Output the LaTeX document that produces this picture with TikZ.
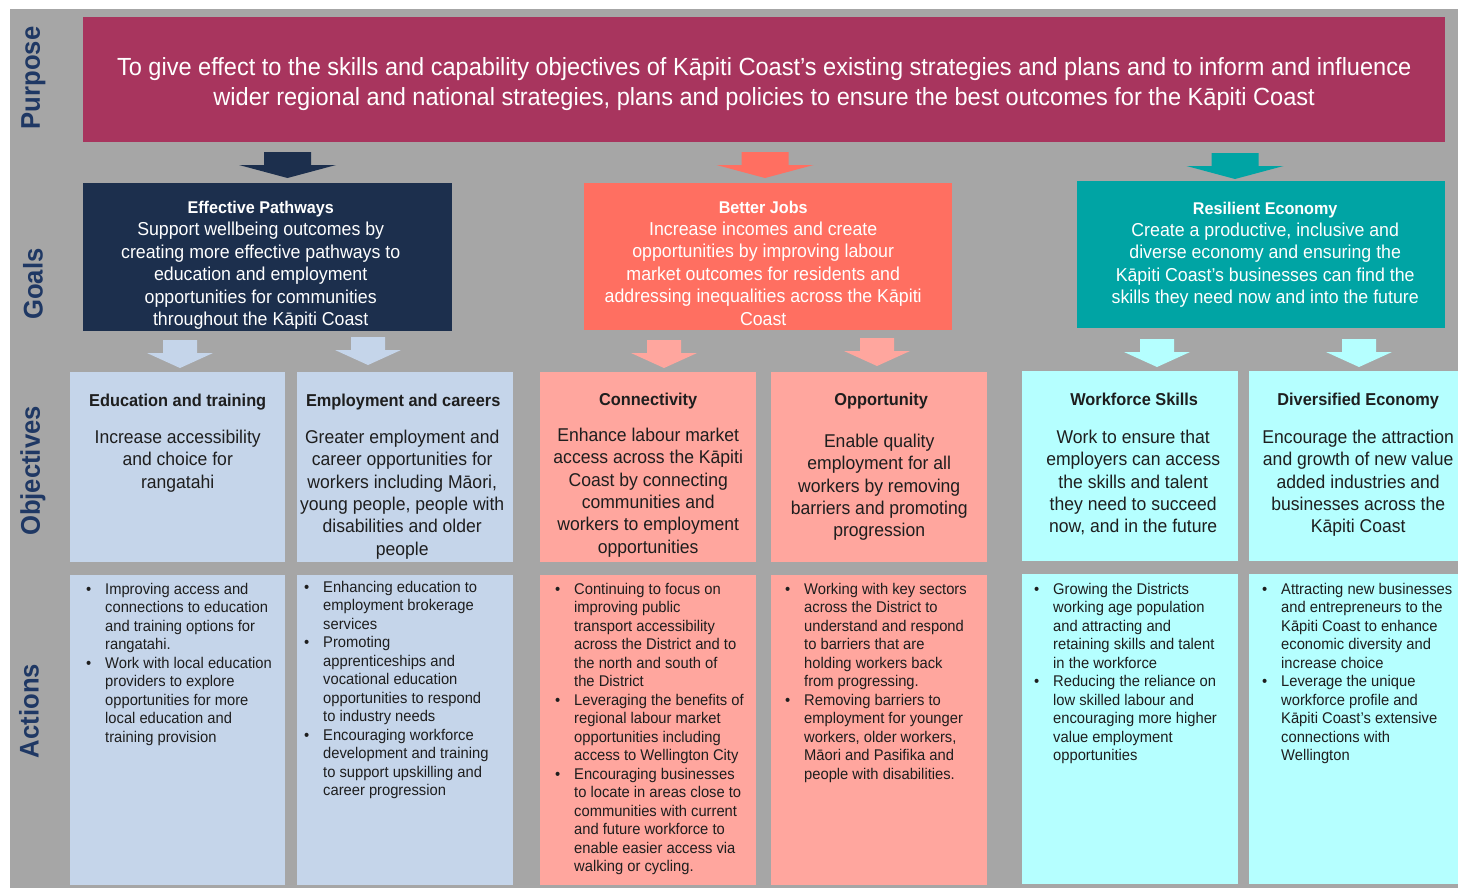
\documentclass[tikz,border=0pt]{standalone}
\usepackage{fontspec}
\setmainfont{Liberation Sans}[FakeStretch=0.95]
\usepackage{xcolor}
\usetikzlibrary{positioning}

\definecolor{bggray}{HTML}{A6A6A6}
\definecolor{purposered}{HTML}{A8355E}
\definecolor{pathnavy}{HTML}{1C2F4D}
\definecolor{jobcoral}{HTML}{FF6F61}
\definecolor{econteal}{HTML}{00A4A4}
\definecolor{pathlight}{HTML}{C5D5EA}
\definecolor{joblight}{HTML}{FFA69E}
\definecolor{econlight}{HTML}{B5FFFF}
\definecolor{sidenavy}{HTML}{1F3864}
\definecolor{inkgray}{HTML}{1E1E1E}

\newcommand{\sidefont}{\fontsize{27}{30}\selectfont\bfseries}
\newcommand{\purpfont}{\fontsize{24.8}{30}\selectfont}
\newcommand{\goalfont}{\fontsize{18.7}{22.4}\selectfont}
\newcommand{\goalhead}[1]{{\fontsize{17}{22.4}\selectfont\bfseries #1}}
\newcommand{\objfont}{\fontsize{18.5}{22.3}\selectfont}
\newcommand{\objheadfont}{\fontsize{17.2}{22.3}\selectfont\bfseries}
\newcommand{\actfont}{\fontsize{15.5}{18.5}\selectfont}
\newcommand{\bullets}[1]{\begin{tabular}{@{}p{19pt}@{}l@{}}#1\end{tabular}}

\tikzset{
    pics/bigdown/.style={code={
        \fill[#1] (-23.5,0) -- (23.5,0) -- (23.5,13) -- (48.5,13) -- (0,26) -- (-48.5,13) -- (-23.5,13) -- cycle;
    }},
    pics/smalldown/.style={code={
        \fill[#1] (-17,0) -- (17,0) -- (17,13) -- (33,13) -- (0,28) -- (-33,13) -- (-17,13) -- cycle;
    }},
}

\begin{document}
\begin{tikzpicture}[x=1pt, y=-1pt,
        every node/.style={inner sep=0pt},
        sidelbl/.style={rotate=90, font=\sidefont, text=sidenavy},
        goalbox/.style={fill=#1, minimum width=368, minimum height=148, anchor=north west},
        goaltxt/.style={align=center, text=white, font=\goalfont},
        objbox/.style={fill=#1, minimum width=216, minimum height=190, anchor=north west},
        objhead/.style={font=\objheadfont, text=inkgray},
        objtxt/.style={align=center, font=\objfont, text=inkgray},
        actbox/.style={fill=#1, minimum width=216, minimum height=310, anchor=north west},
        acttxt/.style={anchor=north west, font=\actfont, text=inkgray},
    ]
    \useasboundingbox (0,0) rectangle (1458,888);
    \clip (0,0) rectangle (1458,888);
    \fill[white] (0,0) rectangle (1458,888);
    \fill[bggray] (10,9) rectangle (1458,888);

    % row labels
    \node[sidelbl] (lpurp) at (33.5,78) {Purpose};
    \node[sidelbl] (lgoal) at (33,284) {Goals};
    \node[sidelbl] (lobj) at (33,471) {Objectives};
    \node[sidelbl] (lact) at (29,711) {Actions};

    % purpose
    \node[fill=purposered, minimum width=1362, minimum height=125, anchor=north west] (purp) at (83,17) {};
    \node[align=center, text=white, font=\purpfont] (purptxt) at ([yshift=-4pt]purp.center)
        {To give effect to the skills and capability objectives of Kāpiti Coast’s existing strategies and plans and to inform and influence\\
         wider regional and national strategies, plans and policies to ensure the best outcomes for the Kāpiti Coast};

    \pic at (287.5,152) {bigdown=pathnavy};
    \pic at (765,152) {bigdown=jobcoral};
    \pic at (1235,153) {bigdown=econteal};

    % goals
    \node[goalbox=pathnavy, minimum width=369] (gpath) at (83,183) {};
    \node[goaltxt, below=18pt of gpath.north, xshift=-7pt] (gpathtxt)
        {\goalhead{Effective Pathways}\\ Support wellbeing outcomes by\\ creating more effective pathways to\\
         education and employment\\ opportunities for communities\\ throughout the Kāpiti Coast};
    \node[goalbox=jobcoral, minimum height=147] (gjobs) at (584,183) {};
    \node[goaltxt, below=17.5pt of gjobs.north, xshift=-5pt] (gjobstxt)
        {\goalhead{Better Jobs}\\ Increase incomes and create\\ opportunities by improving labour\\
         market outcomes for residents and\\ addressing inequalities across the Kāpiti\\ Coast};
    \node[goalbox=econteal, minimum height=147] (gecon) at (1077,181) {};
    \node[goaltxt, below=20.5pt of gecon.north, xshift=4pt] (gecontxt)
        {\goalhead{Resilient Economy}\\ Create a productive, inclusive and\\ diverse economy and ensuring the\\
         Kāpiti Coast’s businesses can find the\\ skills they need now and into the future};

    \pic at (180,340) {smalldown=pathlight};
    \pic at (368,337) {smalldown=pathlight};
    \pic at (664,340) {smalldown=joblight};
    \pic at (877,338) {smalldown=joblight};
    \pic at (1157,339) {smalldown=econlight};
    \pic at (1359,339) {smalldown=econlight};

    % objectives
    \node[objbox=pathlight, minimum width=215] (oedu) at (70,372) {};
    \node[objhead, below=22pt of oedu.north] (oeduhead) {Education and training};
    \node[objtxt, below=58pt of oedu.north] (oedutxt) {Increase accessibility\\ and choice for\\ rangatahi};

    \node[objbox=pathlight] (oemp) at (297,372) {};
    \node[objhead, below=22pt of oemp.north, xshift=-2pt] (oemphead) {Employment and careers};
    \node[objtxt, below=58pt of oemp.north, xshift=-3pt] (oemptxt) {Greater employment and\\ career opportunities for\\
        workers including Māori,\\ young people, people with\\ disabilities and older\\ people};

    \node[objbox=joblight] (ocon) at (540,372) {};
    \node[objhead, below=21pt of ocon.north] (oconhead) {Connectivity};
    \node[objtxt, below=56pt of ocon.north] (ocontxt) {Enhance labour market\\ access across the Kāpiti\\
        Coast by connecting\\ communities and\\ workers to employment\\ opportunities};

    \node[objbox=joblight] (oopp) at (771,372) {};
    \node[objhead, below=21pt of oopp.north, xshift=2pt] (ooppahead) {Opportunity};
    \node[objtxt, below=62pt of oopp.north] (oopptxt) {Enable quality\\ employment for all\\ workers by removing\\
        barriers and promoting\\ progression};

    \node[objbox=econlight] (owork) at (1022,371) {};
    \node[objhead, below=22pt of owork.north, xshift=4pt] (oworkhead) {Workforce Skills};
    \node[objtxt, below=59pt of owork.north, xshift=3pt] (oworktxt) {Work to ensure that\\ employers can access\\
        the skills and talent\\ they need to succeed\\ now, and in the future};

    \node[objbox=econlight, minimum width=218] (odiv) at (1249,371) {};
    \node[objhead, below=22pt of odiv.north] (odivhead) {Diversified Economy};
    \node[objtxt, below=59pt of odiv.north] (odivtxt) {Encourage the attraction\\ and growth of new value\\
        added industries and\\ businesses across the\\ Kāpiti Coast};

    % actions
    \node[actbox=pathlight, minimum width=215] (aedu) at (70,575) {};
    \node[acttxt] (aedutxt) at ([xshift=16pt, yshift=-6pt]aedu.north west) {\bullets{
        \textbullet & Improving access and\\ & connections to education\\ & and training options for\\ & rangatahi.\\
        \textbullet & Work with local education\\ & providers to explore\\ & opportunities for more\\
        & local education and\\ & training provision}};

    \node[actbox=pathlight] (aemp) at (297,575) {};
    \node[acttxt] (aemptxt) at ([xshift=7pt, yshift=-4pt]aemp.north west) {\bullets{
        \textbullet & Enhancing education to\\ & employment brokerage\\ & services\\
        \textbullet & Promoting\\ & apprenticeships and\\ & vocational education\\ & opportunities to respond\\ & to industry needs\\
        \textbullet & Encouraging workforce\\ & development and training\\ & to support upskilling and\\ & career progression}};

    \node[actbox=joblight] (acon) at (540,575) {};
    \node[acttxt] (acontxt) at ([xshift=15pt, yshift=-6pt]acon.north west) {\bullets{
        \textbullet & Continuing to focus on\\ & improving public\\ & transport accessibility\\
        & across the District and to\\ & the north and south of\\ & the District\\
        \textbullet & Leveraging the benefits of\\ & regional labour market\\ & opportunities including\\ & access to Wellington City\\
        \textbullet & Encouraging businesses\\ & to locate in areas close to\\ & communities with current\\
        & and future workforce to\\ & enable easier access via\\ & walking or cycling.}};

    \node[actbox=joblight] (aopp) at (771,575) {};
    \node[acttxt] (aopptxt) at ([xshift=14pt, yshift=-6pt]aopp.north west) {\bullets{
        \textbullet & Working with key sectors\\ & across the District to\\ & understand and respond\\
        & to barriers that are\\ & holding workers back\\ & from progressing.\\
        \textbullet & Removing barriers to\\ & employment for younger\\ & workers, older workers,\\
        & Māori and Pasifika and\\ & people with disabilities.}};

    \node[actbox=econlight] (awork) at (1022,574) {};
    \node[acttxt] (aworktxt) at ([xshift=12pt, yshift=-7pt]awork.north west) {\bullets{
        \textbullet & Growing the Districts\\ & working age population\\ & and attracting and\\
        & retaining skills and talent\\ & in the workforce\\
        \textbullet & Reducing the reliance on\\ & low skilled labour and\\ & encouraging more higher\\
        & value employment\\ & opportunities}};

    \node[actbox=econlight, minimum width=218] (adiv) at (1249,574) {};
    \node[acttxt] (adivtxt) at ([xshift=13pt, yshift=-7pt]adiv.north west) {\bullets{
        \textbullet & Attracting new businesses\\ & and entrepreneurs to the\\ & Kāpiti Coast to enhance\\
        & economic diversity and\\ & increase choice\\
        \textbullet & Leverage the unique\\ & workforce profile and\\ & Kāpiti Coast's extensive\\
        & connections with\\ & Wellington}};
\end{tikzpicture}
\end{document}
